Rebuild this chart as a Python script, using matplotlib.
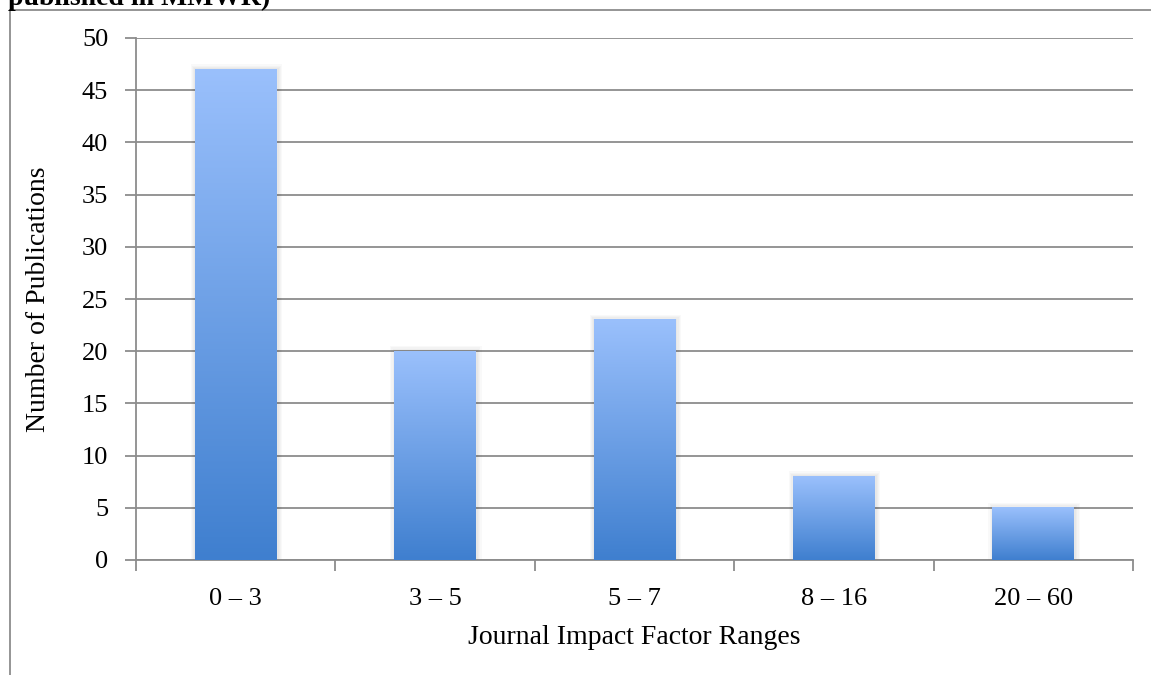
import numpy as np
import matplotlib.pyplot as plt
from matplotlib.colors import LinearSegmentedColormap
from matplotlib.lines import Line2D
from matplotlib.patches import Rectangle

# data
categories = ['0 – 3', '3 – 5', '5 – 7', '8 – 16', '20 – 60']
counts = [47, 20, 23, 8, 5]

plt.rcParams['font.family'] = ['Liberation Serif', 'DejaVu Serif']

fig = plt.figure(figsize=(11.51, 6.75), dpi=100)
W, H = 1151, 675
ax = fig.add_axes([136 / W, 1 - 560 / H, (1133 - 136) / W, (560 - 38) / H])

grad = LinearSegmentedColormap.from_list('bar', ['#3f7fcf', '#9ac0fc'])
ramp = np.linspace(0, 1, 256).reshape(-1, 1)

n = len(categories)
bar_w = 0.41
for i, v in enumerate(counts):
    x0 = i + 0.5 - bar_w / 2
    # soft shadow around the bar
    for k in range(1, 5):
        dx = 0.006 * k
        dy = 0.12 * k
        ax.add_patch(Rectangle((x0 - dx + 0.004, 0), bar_w + 2 * dx, v + dy,
                               color='#000000', alpha=0.025, lw=0, zorder=2))
    ax.imshow(ramp, cmap=grad, origin='lower', aspect='auto',
              extent=(x0, x0 + bar_w, 0, v), zorder=3)

ax.set_xlim(0, n)
ax.set_ylim(0, 50)
ax.set_yticks(range(0, 51, 5))
ax.set_xticks(np.arange(n) + 0.5)
ax.set_xticklabels(categories)
ax.set_xticks(range(n + 1), minor=True)
ax.tick_params(axis='x', which='major', length=0, labelsize=19, pad=20)
ax.tick_params(axis='x', which='minor', length=8, width=1.3, color='#8c8c8c')
ax.tick_params(axis='y', length=8, width=1.3, color='#8c8c8c', labelsize=19, pad=12)
ax.grid(axis='y', color='#8c8c8c', linewidth=1.3, zorder=1)
ax.set_axisbelow(True)
for s in ['top', 'right']:
    ax.spines[s].set_visible(False)
for s in ['left', 'bottom']:
    ax.spines[s].set_color('#8c8c8c')
    ax.spines[s].set_linewidth(1.3)

ax.set_xlabel('Journal Impact Factor Ranges', fontsize=20, labelpad=11)
ax.set_ylabel('Number of Publications', fontsize=20, labelpad=22)

# outer frame and cut-off heading
fig.add_artist(Line2D([10 / W, 10 / W], [0, 1 - 10 / H], color='#8c8c8c', lw=1.3))
fig.add_artist(Line2D([10 / W, 1], [1 - 10 / H, 1 - 10 / H], color='#8c8c8c', lw=1.3))
fig.text(8 / W, 1 - 5 / H, 'published in MMWR)', fontsize=20, fontweight='bold',
         ha='left', va='baseline')

fig.savefig('out.png', dpi=100)
